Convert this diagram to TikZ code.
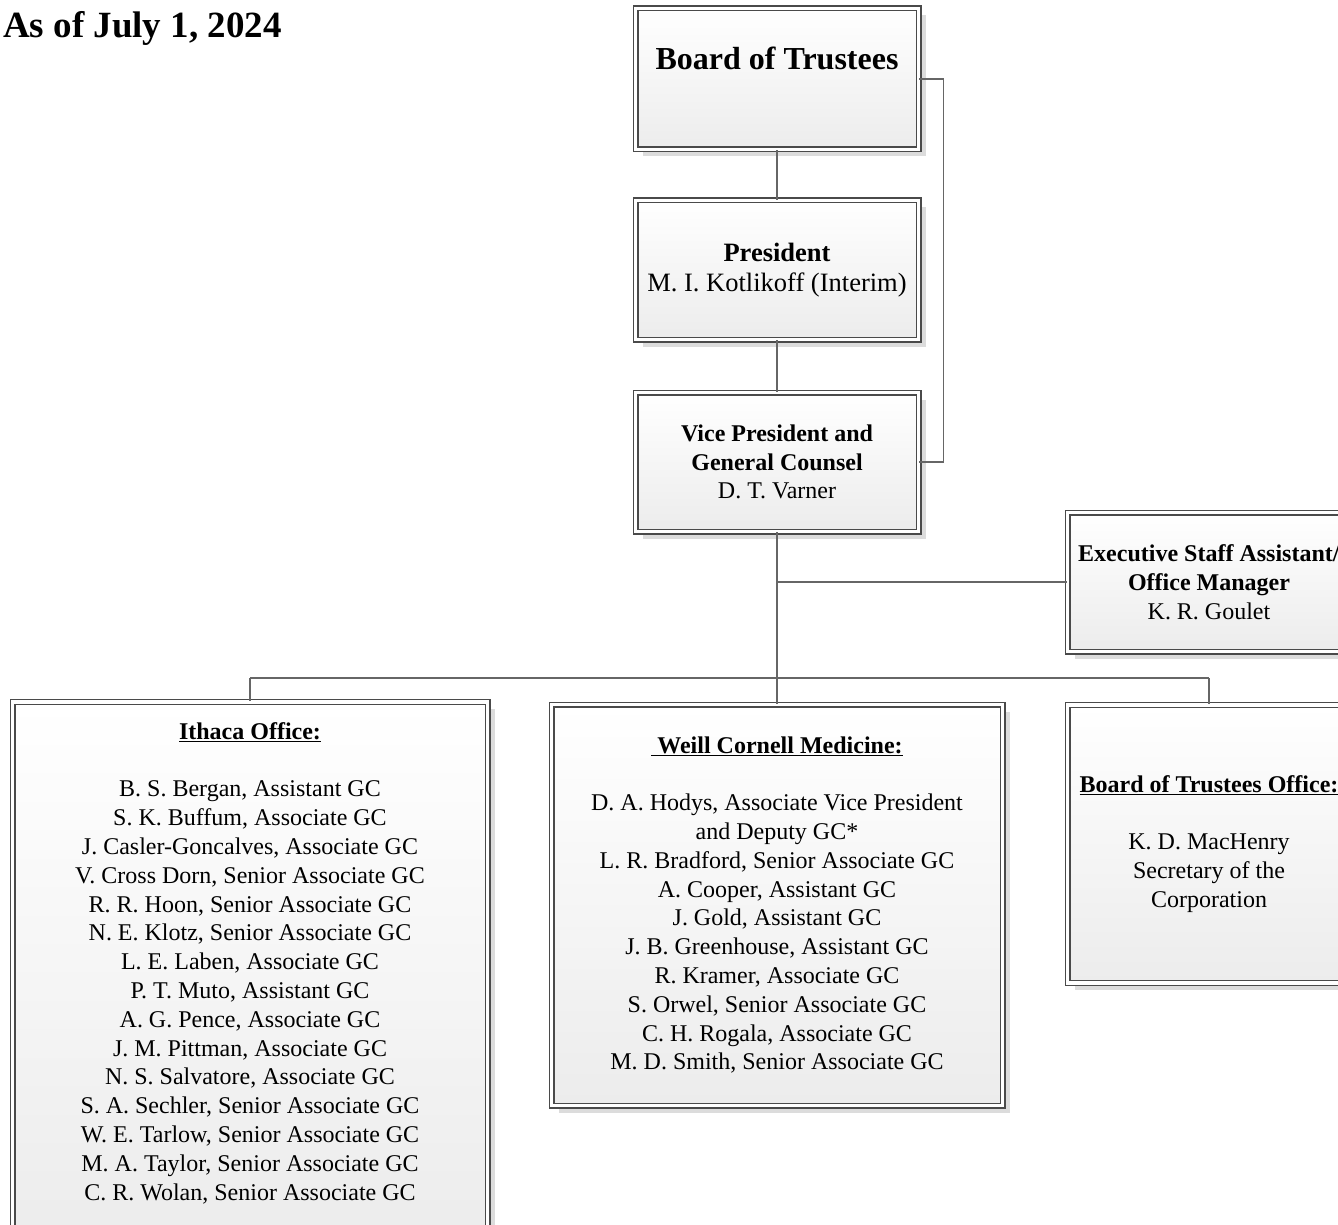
\documentclass[tikz,border=0pt]{standalone}
\usepackage{fontspec}
\setmainfont{Liberation Serif}
\usetikzlibrary{shadows}
\definecolor{linegray}{HTML}{4A4A4A}
\definecolor{wiregray}{HTML}{666666}
\definecolor{boxgray}{HTML}{ECECEC}
\definecolor{shadowgray}{HTML}{DCDCDC}
\tikzset{
	orgbox/.style={draw=linegray, line width=1.1pt, double=white, double distance=3.8pt,
		top color=white, bottom color=boxgray, inner sep=0pt,
		drop shadow={shadow xshift=7pt, shadow yshift=-7pt, fill=shadowgray, opacity=1}},
	link/.style={draw=wiregray, line width=1.1pt},
	txt/.style={align=center, inner sep=0pt, font=\fontsize{24}{28.8}\selectfont}
}

\begin{document}
\begin{tikzpicture}[x=1pt, y=-1pt]
			%%%%% PAGE %%%%%
			\useasboundingbox (0,0) rectangle (1338,1225);
			\clip (0,0) rectangle (1338,1225);
			
			\node[anchor=base west, inner sep=0pt, font=\fontsize{37}{44}\selectfont\bfseries] (date) at (3,38) {As of July 1, 2024};
			
			%%%%% TOP %%%%%
			\node[orgbox, minimum width=283, minimum height=141] (bot) at (777,79) {};
			\node[txt, font=\fontsize{32}{38}\selectfont\bfseries] (bottxt) at (777,58) {Board of Trustees};
			
			\node[orgbox, txt, minimum width=283, minimum height=139, font=\fontsize{26.5}{30}\selectfont] (pres) at (777,270)
				{\textbf{President}\\M. I. Kotlikoff (Interim)};
			
			\node[orgbox, txt, minimum width=283, minimum height=139] (vp) at (777,462)
				{\textbf{Vice President and}\\\textbf{General Counsel}\\D. T. Varner};
			
			\node[orgbox, txt, minimum width=283, minimum height=139] (exec) at (1209,582)
				{\textbf{Executive Staff Assistant/}\\\textbf{Office Manager}\\K. R. Goulet};
			
			%%%%% OFFICES %%%%%
			\node[orgbox, minimum width=475, minimum height=540] (ith) at (250,972) {};
			\node[txt] (ithtxt) at (250,963)
				{\textbf{\underline{Ithaca Office:}}\\[28.8pt]
				B. S. Bergan, Assistant GC\\
				S. K. Buffum, Associate GC\\
				J. Casler-Goncalves, Associate GC\\
				V. Cross Dorn, Senior Associate GC\\
				R. R. Hoon, Senior Associate GC\\
				N. E. Klotz, Senior Associate GC\\
				L. E. Laben, Associate GC\\
				P. T. Muto, Assistant GC\\
				A. G. Pence, Associate GC\\
				J. M. Pittman, Associate GC\\
				N. S. Salvatore, Associate GC\\
				S. A. Sechler, Senior Associate GC\\
				W. E. Tarlow, Senior Associate GC\\
				M. A. Taylor, Senior Associate GC\\
				C. R. Wolan, Senior Associate GC};
			
			\node[orgbox, txt, minimum width=451, minimum height=401] (wcm) at (777,905)
				{\textbf{\underline{\ Weill Cornell Medicine:}}\\[28.8pt]
				D. A. Hodys, Associate Vice President\\
				and Deputy GC*\\
				L. R. Bradford, Senior Associate GC\\
				A. Cooper, Assistant GC\\
				J. Gold, Assistant GC\\
				J. B. Greenhouse, Assistant GC\\
				R. Kramer, Associate GC\\
				S. Orwel, Senior Associate GC\\
				C. H. Rogala, Associate GC\\
				M. D. Smith, Senior Associate GC};
			
			\node[orgbox, txt, minimum width=283, minimum height=278] (bto) at (1209,844)
				{\textbf{\underline{Board of Trustees Office:}}\\[28.8pt]
				K. D. MacHenry\\
				Secretary of the\\
				Corporation};
			
			%%%%% LINKS %%%%%
			\coordinate (split) at (777,678);
			\draw[link] (bot) -- (pres);
			\draw[link] (pres) -- (vp);
			\draw[link] (bot.east) -- ++(24,0) |- (vp.east);
			\draw[link] (vp) -- (split);
			\draw[link] (vp.south |- exec.west) -- (exec.west);
			\draw[link] (ith.north |- split) -- (bto.north |- split);
			\draw[link] (ith.north |- split) -- (ith.north);
			\draw[link] (split) -- (wcm.north);
			\draw[link] (bto.north |- split) -- (bto.north);
		\end{tikzpicture}
\end{document}
